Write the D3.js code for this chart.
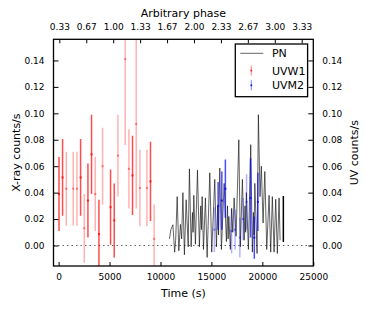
<!DOCTYPE html>
<html>
<head>
<meta charset="utf-8">
<script src="https://cdn.jsdelivr.net/npm/d3@7/dist/d3.min.js"></script>
<style>
  body { margin: 0; background: #fff; }
  text { font-family: "DejaVu Sans", sans-serif; fill: #000; }
</style>
</head>
<body>
<div id="chart"></div>
<script>
// UVW1 (OM) light curve
const uvw1Time = [40, 390, 755, 1440, 1800, 2160, 2520, 2880, 3235, 3600, 3960, 4315,
  5100, 5460, 5825, 6540, 6900, 7255, 7620, 7980, 8670, 9020, 9380];
const uvw1Rate = [0.039, 0.0515, 0.043, 0.043, 0.043, 0.0515, 0.013, 0.034, 0.069, 0.039, 0.0086, 0.060,
  0.029, 0.019, 0.068, 0.141, 0.058, 0.053, 0.092, 0.0435, 0.0435, 0.0485, 0.005];
const uvw1Err = [0.028, 0.029, 0.028, 0.028, 0.028, 0.029, 0.026, 0.028, 0.030, 0.028, 0.026, 0.029,
  0.0285, 0.028, 0.031, 0.065, 0.030, 0.030, 0.064, 0.029, 0.029, 0.030, 0.026];
const uvw1Set = [1, 1, 2, 2, 2, 1, 2, 1, 1, 2, 1, 2, 1, 1, 2, 2, 2, 1, 2, 2, 2, 1, 2];

// UVM2 (OM) light curve
const uvm2Time = [15290, 15660, 16020, 16370, 16980, 17320, 17790, 18110, 18450, 18840, 19210, 19560];
const uvm2Rate = [0.012, 0.030, 0.034, 0.043, 0.011, 0.012, 0.006, 0.020, 0.033, 0.036, 0.006, 0.033];
const uvm2Err = [0.017, 0.018, 0.022, 0.022, 0.017, 0.015, 0.015, 0.016, 0.021, 0.030, 0.016, 0.022];
const uvm2Set = [2, 1, 1, 1, 2, 2, 2, 2, 2, 1, 1, 1];

// EPIC-pn light curve
const pnTime = [10880, 11020, 11220, 11390, 11490, 11640, 11800, 11960, 12080, 12200, 12350, 12520, 12720,
  12840, 13010, 13140, 13200, 13270, 13430, 13630, 13820, 13950, 14020, 14090, 14220, 14410, 14580, 14840,
  15030, 15330, 15490, 15620, 15700, 15820, 15980, 16250, 16470, 16580, 16640, 16710, 16860, 16980, 17100,
  17230, 17420, 17690, 17840, 18040, 18210, 18300, 18360, 18430, 18630, 18860, 19020, 19120, 19190, 19260,
  19480, 19610, 19770, 19900, 20070, 20240, 20430, 20660, 20820, 20980, 21150, 21310, 21470, 21640, 21740];
const pnRate = [0.005, 0.012, 0.0157, -0.005, 0.004, 0.037, -0.004, 0.016, 0.005, 0.040, -0.007, 0.0346, -0.001,
  0.058, -0.001, 0.025, 0.010, 0.038, 0.001, 0.057, -0.001, 0.030, 0.012, 0.037, -0.003, 0.036, -0.009, 0.055,
  -0.005, 0.050, -0.001, 0.030, 0.008, 0.0586, -0.003, 0.047, 0.003, 0.030, 0.005, 0.022, -0.003, 0.028, 0.010,
  0.036, 0.007, 0.080, -0.001, 0.050, 0.004, 0.030, 0.010, 0.040, -0.003, 0.0763, -0.005, 0.025, 0.008, 0.047,
  -0.006, 0.099, 0.037, 0.060, 0.017, 0.056, -0.003, 0.038, -0.005, 0.037, -0.005, 0.035, -0.006, 0.036, 0.004];
const pnTailTime = 22060;
const pnTailRange = [0.0026, 0.0375];

const timeTicks = [0, 5000, 10000, 15000, 20000, 25000];
const rateTicks = [0, 0.02, 0.04, 0.06, 0.08, 0.10, 0.12, 0.14];
const phaseTicks = [0.3333, 0.6667, 1.0, 1.3333, 1.6667, 2.0, 2.3333, 2.6667, 3.0, 3.3333];
const legendNames = ["PN", "UVW1", "UVM2"];

let margin = {top: 39.3, right: 52.7, bottom: 44, left: 53.5},
  width = 366 - margin.left - margin.right,
  height = 310 - margin.top - margin.bottom;

let root = d3.select("#chart")
  .append("svg")
  .attr("width", 366)
  .attr("height", 310);

let svg = root.append("g")
  .attr("transform", "translate(" + margin.left + "," + margin.top + ")");

let x = d3.scaleLinear().domain([-500, 25000]).range([0, width]);
let phase = d3.scaleLinear().domain([0.261, 3.477]).range([0, width]);
let y = d3.scaleLinear().domain([-0.0155, 0.156]).range([height, 0]);

root.append("defs").append("clipPath").attr("id", "plot-clip")
  .append("rect").attr("width", width).attr("height", height);

let plot = svg.append("g").attr("clip-path", "url(#plot-clip)");

// zero reference line
plot.append("line")
  .attr("x1", 0).attr("x2", width)
  .attr("y1", y(0)).attr("y2", y(0))
  .attr("stroke", "#666")
  .attr("stroke-width", 1.2)
  .attr("stroke-dasharray", "1.5,3");

// PN curve
let pnData = pnTime.map((t, i) => ({t: t, v: pnRate[i]}));
plot.append("path")
  .datum(pnData)
  .attr("fill", "none")
  .attr("stroke", "#111")
  .attr("stroke-opacity", 0.65)
  .attr("stroke-width", 1)
  .attr("d", d3.line().x(d => x(d.t)).y(d => y(d.v)));

plot.append("line")
  .attr("x1", x(pnTailTime)).attr("x2", x(pnTailTime))
  .attr("y1", y(pnTailRange[0])).attr("y2", y(pnTailRange[1]))
  .attr("stroke", "#000")
  .attr("stroke-width", 1.5);

function errorBars(times, rates, errs, sets, color) {
  let data = times.map((t, i) => ({t: t, v: rates[i], e: errs[i], s: sets[i]}));
  let g = plot.append("g");
  g.selectAll("line")
    .data(data)
    .enter()
    .append("line")
    .attr("x1", d => x(d.t)).attr("x2", d => x(d.t))
    .attr("y1", d => y(d.v - d.e)).attr("y2", d => y(d.v + d.e))
    .attr("stroke", color)
    .attr("stroke-width", 1.5)
    .attr("stroke-opacity", d => d.s === 1 ? 0.7 : 0.3);
  g.selectAll("rect")
    .data(data)
    .enter()
    .append("rect")
    .attr("x", d => x(d.t) - 1).attr("y", d => y(d.v) - 1)
    .attr("width", 2).attr("height", 2)
    .attr("fill", color)
    .attr("fill-opacity", d => d.s === 1 ? 0.8 : 0.45);
}

errorBars(uvw1Time, uvw1Rate, uvw1Err, uvw1Set, "#ff0000");
errorBars(uvm2Time, uvm2Rate, uvm2Err, uvm2Set, "#0000ff");

// axes (ticks pointing inward, matplotlib style)
let fmtY = d3.format(".2f");

svg.append("g")
  .attr("transform", "translate(0," + height + ")")
  .call(d3.axisBottom(x).tickValues(timeTicks).tickSizeInner(-4).tickSizeOuter(0).tickPadding(8).tickFormat(d3.format("d")));

svg.append("g")
  .call(d3.axisLeft(y).tickValues(rateTicks).tickSizeInner(-5).tickSizeOuter(0).tickPadding(9).tickFormat(fmtY));

svg.append("g")
  .attr("transform", "translate(" + width + ",0)")
  .call(d3.axisRight(y).tickValues(rateTicks).tickSizeInner(-5).tickSizeOuter(0).tickPadding(9).tickFormat(fmtY));

svg.append("g")
  .call(d3.axisTop(phase).tickValues(phaseTicks).tickSizeInner(-4).tickSizeOuter(0).tickPadding(9).tickFormat(d3.format(".2f")));

svg.selectAll(".domain").remove();
svg.selectAll(".tick line").attr("stroke", "#000").attr("stroke-width", 1);
svg.selectAll(".tick text").style("font-size", "9px").style("font-family", "DejaVu Sans");

// frame
svg.append("rect")
  .attr("width", width).attr("height", height)
  .attr("fill", "none")
  .attr("stroke", "#000")
  .attr("stroke-width", 1.3);

// axis titles
svg.append("text")
  .attr("x", width / 2).attr("y", height + 31)
  .attr("text-anchor", "middle")
  .style("font-size", "11px")
  .text("Time (s)");

svg.append("text")
  .attr("x", width / 2).attr("y", -22)
  .attr("text-anchor", "middle")
  .style("font-size", "11px")
  .text("Arbitrary phase");

svg.append("text")
  .attr("transform", "translate(" + (-36.5) + "," + (height / 2) + ") rotate(-90)")
  .attr("text-anchor", "middle")
  .attr("dominant-baseline", "middle")
  .style("font-size", "11px")
  .text("X-ray counts/s");

svg.append("text")
  .attr("transform", "translate(" + (width + 41.5) + "," + (height / 2) + ") rotate(-90)")
  .attr("text-anchor", "middle")
  .attr("dominant-baseline", "middle")
  .style("font-size", "11px")
  .text("UV counts/s");

// legend
let legend = svg.append("g").attr("transform", "translate(" + (width - 78) + ",4.7)");
legend.append("rect")
  .attr("width", 72.3).attr("height", 52.7)
  .attr("fill", "#fff")
  .attr("stroke", "#000")
  .attr("stroke-width", 1.3);
legend.append("line")
  .attr("x1", 5).attr("x2", 28).attr("y1", 9.3).attr("y2", 9.3)
  .attr("stroke", "#111").attr("stroke-opacity", 0.65).attr("stroke-width", 1);
[["#ff0000", 26.5], ["#0000ff", 41.3]].forEach(function (c) {
  legend.append("line")
    .attr("x1", 16).attr("x2", 16).attr("y1", c[1] - 5).attr("y2", c[1] + 5)
    .attr("stroke", c[0]).attr("stroke-opacity", 0.5).attr("stroke-width", 1);
  legend.append("rect")
    .attr("x", 15.2).attr("y", c[1] - 0.8).attr("width", 1.6).attr("height", 1.6)
    .attr("fill", c[0]);
});
[9.3, 26.5, 41.3].forEach(function (yy, i) {
  legend.append("text")
    .attr("x", 36.7).attr("y", yy + 4)
    .style("font-size", "11px")
    .text(legendNames[i]);
});
</script>
</body>
</html>
